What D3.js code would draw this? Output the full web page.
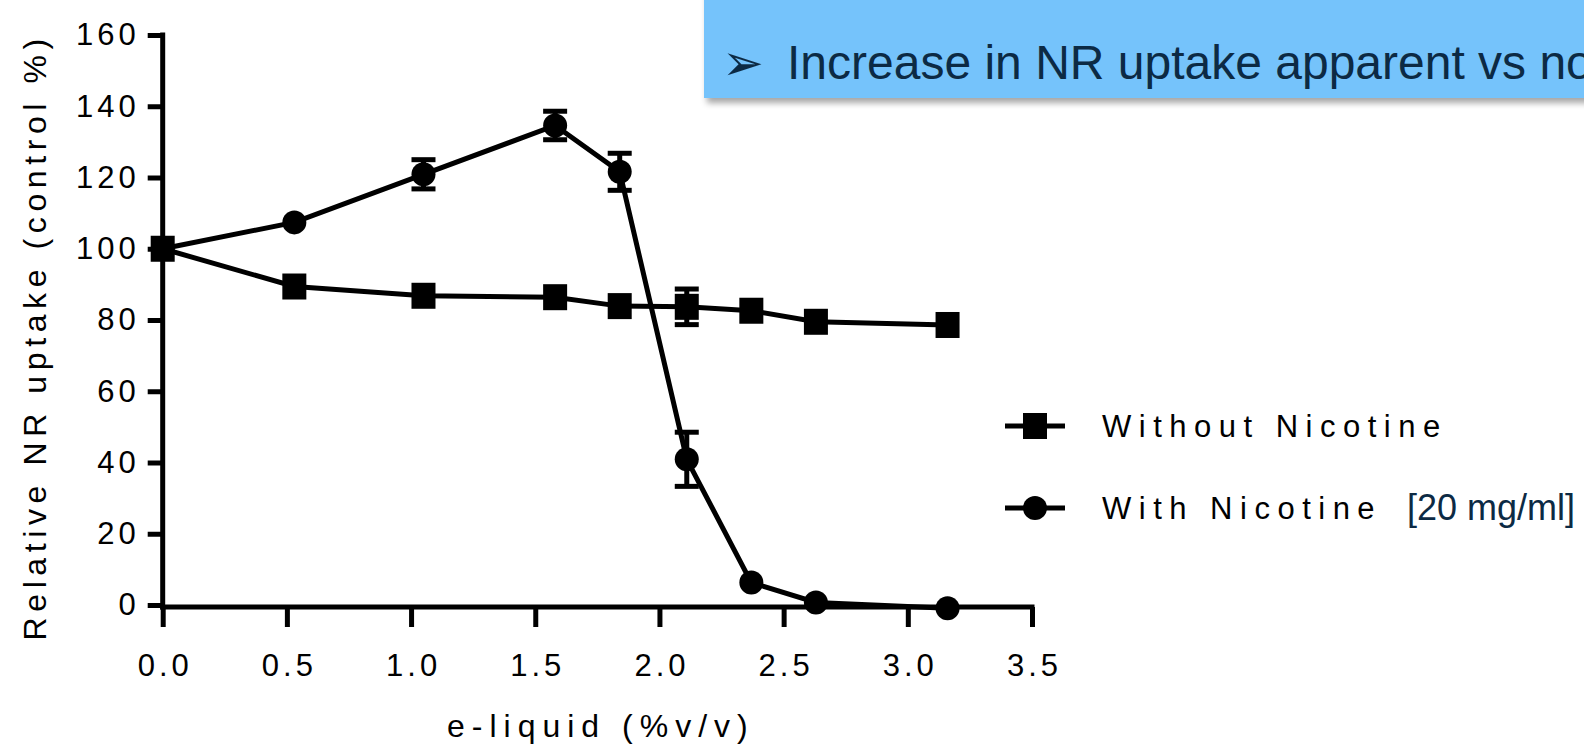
<!DOCTYPE html>
<html>
<head>
<meta charset="utf-8">
<script src="https://cdn.jsdelivr.net/npm/d3@7"></script>
<style>
  body { margin: 0; background: #fff; }
  svg { display: block; }
</style>
</head>
<body>
<div id="chart"></div>
<script>
// e-liquid concentration (% v/v)
const concentrations = [0, 0.53, 1.05, 1.58, 1.84, 2.11, 2.37, 2.63, 3.16];
const withoutNicotine = [100, 89.4, 86.8, 86.4, 83.9, 83.7, 82.6, 79.5, 78.6];
const withoutNicotineErr = [0, 0, 0, 0, 0, 5, 0, 0, 0];
const withNicotine = [100, 107.4, 120.9, 134.6, 121.6, 40.9, 6.3, 0.7, -0.9];
const withNicotineErr = [0, 0, 4.1, 4, 5.2, 7.6, 0, 0, 0];
const yTicks = [0, 20, 40, 60, 80, 100, 120, 140, 160];
const xTicks = [0, 0.5, 1, 1.5, 2, 2.5, 3, 3.5];
const seriesNames = ['Without Nicotine', 'With Nicotine'];

const W = 1584, H = 746;
const font = '"Liberation Sans", Arial, sans-serif';
const tickLs = 4;

const svg = d3.select('#chart')
              .append('svg')
              .attr('width', W)
              .attr('height', H);

const x = d3.scaleLinear().domain([0, 3.5]).range([162.7, 1032]);
const y = d3.scaleLinear().domain([0, 160]).range([605, 35]);

// callout box (top right)
const defs = svg.append('defs');
const f = defs.append('filter').attr('id', 'shadow').attr('x', '-5%').attr('y', '-20%').attr('width', '110%').attr('height', '150%');
f.append('feDropShadow').attr('dx', 3).attr('dy', 5).attr('stdDeviation', 3).attr('flood-color', '#000').attr('flood-opacity', 0.35);

svg.append('rect')
   .attr('x', 704).attr('y', -10)
   .attr('width', 900).attr('height', 108)
   .attr('fill', '#75c3fb')
   .attr('filter', 'url(#shadow)');

svg.append('text')
   .attr('x', 722).attr('y', 80)
   .attr('font-family', '"DejaVu Sans", sans-serif')
   .attr('font-size', 50)
   .attr('fill', '#0c2a44')
   .text('\u27A2');

svg.append('text')
   .attr('x', 787).attr('y', 79)
   .attr('font-family', font)
   .attr('font-size', 48)
   .attr('fill', '#0c2a44')
   .text('Increase in NR uptake apparent vs non-nicotine');

// axes
const yAxis = svg.append('g')
   .attr('transform', `translate(${x(0)},0)`)
   .call(d3.axisLeft(y).tickValues(yTicks).tickSize(15).tickSizeOuter(0).tickPadding(12));
yAxis.select('.domain').remove();
yAxis.selectAll('line').attr('stroke', '#000').attr('stroke-width', 5);
yAxis.selectAll('text')
     .attr('font-family', font).attr('font-size', 31).attr('fill', '#000')
     .attr('dx', tickLs)
     .style('letter-spacing', tickLs + 'px');

const xAxis = svg.append('g')
   .attr('transform', `translate(0,${y(0) + 2})`)
   .call(d3.axisBottom(x).tickValues(xTicks).tickSize(20).tickSizeOuter(0).tickPadding(27).tickFormat(d3.format('.1f')));
xAxis.select('.domain').remove();
xAxis.selectAll('line').attr('stroke', '#000').attr('stroke-width', 5);
xAxis.selectAll('text')
     .attr('font-family', font).attr('font-size', 31).attr('fill', '#000')
     .attr('dx', tickLs / 2)
     .style('letter-spacing', tickLs + 'px');

svg.append('line')
   .attr('x1', x(0)).attr('x2', x(0))
   .attr('y1', y(160) - 2.5).attr('y2', y(0) + 4.5)
   .attr('stroke', '#000').attr('stroke-width', 5);
svg.append('line')
   .attr('x1', x(0) - 2.5).attr('x2', x(3.5) + 2.5)
   .attr('y1', y(0) + 2).attr('y2', y(0) + 2)
   .attr('stroke', '#000').attr('stroke-width', 5);

// axis titles
svg.append('text')
   .attr('x', x(1.75) + 3.5).attr('y', 737)
   .attr('text-anchor', 'middle')
   .attr('font-family', font).attr('font-size', 32)
   .style('letter-spacing', '7px')
   .text('e-liquid (%v/v)');

svg.append('text')
   .attr('transform', `translate(46,${334 + 2.8}) rotate(-90)`)
   .attr('text-anchor', 'middle')
   .attr('font-family', font).attr('font-size', 32)
   .style('letter-spacing', '5.6px')
   .text('Relative NR uptake (control %)');

// series
const line = d3.line().x(d => x(d.x)).y(d => y(d.y));
function series(vals, errs) {
  return concentrations.map((c, i) => ({x: c, y: vals[i], e: errs[i]}));
}
const sWith = series(withNicotine, withNicotineErr);
const sWithout = series(withoutNicotine, withoutNicotineErr);

function drawErrors(data) {
  const g = svg.append('g');
  data.filter(d => d.e > 0).forEach(d => {
    g.append('line').attr('x1', x(d.x)).attr('x2', x(d.x))
     .attr('y1', y(d.y + d.e)).attr('y2', y(d.y - d.e))
     .attr('stroke', '#000').attr('stroke-width', 5);
    [d.y + d.e, d.y - d.e].forEach(v => {
      g.append('line').attr('x1', x(d.x) - 12).attr('x2', x(d.x) + 12)
       .attr('y1', y(v)).attr('y2', y(v))
       .attr('stroke', '#000').attr('stroke-width', 5);
    });
  });
}

svg.append('path').datum(sWith).attr('d', line)
   .attr('fill', 'none').attr('stroke', '#000').attr('stroke-width', 5);
drawErrors(sWith);
svg.selectAll('circle.pt').data(sWith).enter().append('circle')
   .attr('class', 'pt')
   .attr('cx', d => x(d.x)).attr('cy', d => y(d.y)).attr('r', 12)
   .attr('fill', '#000');

svg.append('path').datum(sWithout).attr('d', line)
   .attr('fill', 'none').attr('stroke', '#000').attr('stroke-width', 5);
drawErrors(sWithout);
svg.selectAll('rect.pt').data(sWithout).enter().append('rect')
   .attr('class', 'pt')
   .attr('x', d => x(d.x) - 12).attr('y', d => y(d.y) - 13)
   .attr('width', 24).attr('height', 26)
   .attr('fill', '#000');

// legend
const legend = svg.append('g');
const rows = [426, 508];
seriesNames.forEach((name, i) => {
  const ly = rows[i];
  legend.append('line').attr('x1', 1005).attr('x2', 1065)
        .attr('y1', ly).attr('y2', ly)
        .attr('stroke', '#000').attr('stroke-width', 5);
  if (i === 0) {
    legend.append('rect').attr('x', 1035 - 12).attr('y', ly - 13)
          .attr('width', 24).attr('height', 26).attr('fill', '#000');
  } else {
    legend.append('circle').attr('cx', 1035).attr('cy', ly).attr('r', 12).attr('fill', '#000');
  }
  legend.append('text').attr('x', 1102).attr('y', ly + 11)
        .attr('font-family', font).attr('font-size', 31)
        .style('letter-spacing', '7.5px')
        .text(name);
});
legend.append('text')
      .attr('x', 1407).attr('y', rows[1] + 12)
      .attr('font-family', font).attr('font-size', 36)
      .attr('fill', '#0c2a44')
      .text('[20 mg/ml]');
</script>
</body>
</html>
